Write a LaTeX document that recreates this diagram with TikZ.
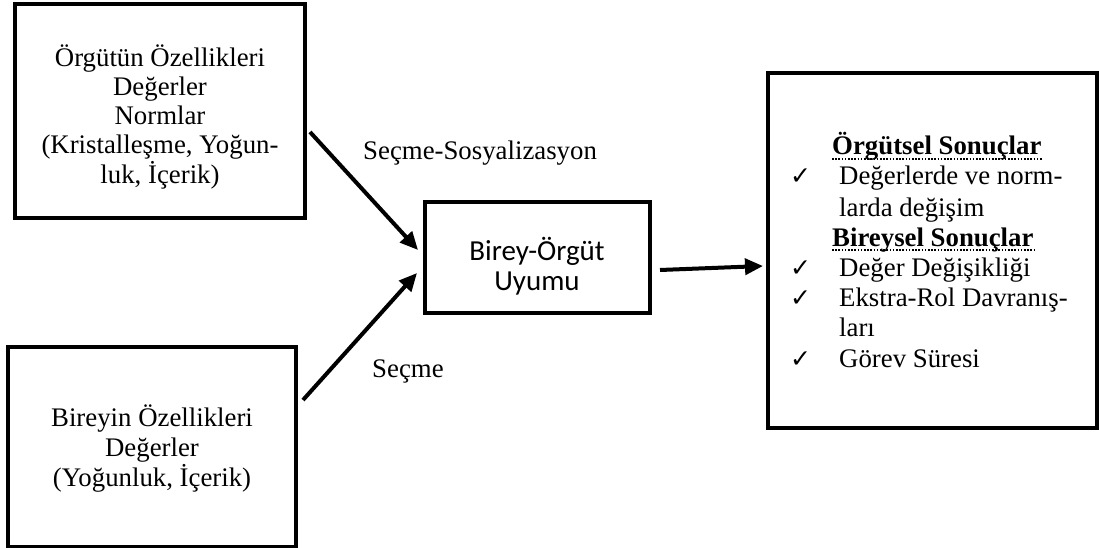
\documentclass[tikz,border=0pt]{standalone}
\usepackage{fontspec}
\setmainfont{Liberation Serif}
\newfontfamily\calib{Carlito}
\newfontfamily\dejavu{DejaVu Sans}
\usetikzlibrary{arrows.meta}
\tikzset{
  box/.style={draw, line width=4.5pt, inner sep=0pt, fill=none},
  txt/.style={inner sep=0pt, font=\fontsize{26.8}{30}\selectfont},
  sans/.style={inner sep=0pt, font=\calib\fontsize{29}{32}\selectfont},
  hd/.style={inner sep=0pt, font=\fontsize{26.8}{30}\selectfont\bfseries},
  chk/.style={inner sep=0pt, font=\dejavu\fontsize{25}{28}\selectfont},
  arr/.style={line width=4pt, -{Triangle[length=18pt,width=16pt]}},
  dotline/.style={line width=1.6pt, dash pattern=on 1.6pt off 1.6pt}
}
\begin{document}
\begin{tikzpicture}[x=1pt,y=-1pt]
\useasboundingbox (0,0) rectangle (1099,548);
% boxes
\node[box, minimum width=290pt, minimum height=214pt] (org) at (160,111) {};
\node[box, minimum width=288pt, minimum height=200pt] (bir) at (152,447) {};
\node[box, minimum width=225pt, minimum height=111pt] (uyum) at (537.5,257.5) {};
\node[box, minimum width=329pt, minimum height=355pt] (son) at (932.5,250.5) {};
% box 1 text
\node[txt, anchor=base] (o1) at (160,67) {Örgütün Özellikleri};
\node[txt, anchor=base] (o2) at (160,96) {Değerler};
\node[txt, anchor=base] (o3) at (160,125) {Normlar};
\node[txt, anchor=base] (o4) at (160,154) {(Kristalleşme, Yoğun-};
\node[txt, anchor=base] (o5) at (160,183) {luk, İçerik)};
% box 2 text
\node[txt, anchor=base] (b1) at (152,426) {Bireyin Özellikleri};
\node[txt, anchor=base] (b2) at (152,456) {Değerler};
\node[txt, anchor=base] (b3) at (152,486) {(Yoğunluk, İçerik)};
% middle text
\node[sans, anchor=base] (u1) at (537,260) {Birey-Örgüt};
\node[sans, anchor=base] (u2) at (537,290) {Uyumu};
% labels
\node[txt, anchor=base west] (l1) at (363,160) {Seçme-Sosyalizasyon};
\node[txt, anchor=base west] (l2) at (372,377) {Seçme};
% right box
\node[hd, anchor=base west] (h1) at (832,155) {Örgütsel Sonuçlar};
\draw[dotline] ([yshift=-4pt]h1.base west) -- ([yshift=-4pt]h1.base east);
\node[chk, anchor=base west] (c1) at (790,185) {✓};
\node[txt, anchor=base west] (r1) at (839,185) {Değerlerde ve norm-};
\node[txt, anchor=base west] (r2) at (839,216) {larda değişim};
\node[hd, anchor=base west] (h2) at (832,246) {Bireysel Sonuçlar};
\draw[dotline] ([yshift=-4pt]h2.base west) -- ([yshift=-4pt]h2.base east);
\node[chk, anchor=base west] (c2) at (790,276) {✓};
\node[txt, anchor=base west] (r3) at (839,276) {Değer Değişikliği};
\node[chk, anchor=base west] (c3) at (790,306) {✓};
\node[txt, anchor=base west] (r4) at (839,306) {Ekstra-Rol Davranış-};
\node[txt, anchor=base west] (r5) at (839,336) {ları};
\node[chk, anchor=base west] (c4) at (790,367) {✓};
\node[txt, anchor=base west] (r6) at (839,367) {Görev Süresi};
% arrows
\coordinate (a1s) at (310,132);
\coordinate (a1e) at (418,250);
\coordinate (a2s) at (303,400);
\coordinate (a2e) at (417,273);
\coordinate (a3s) at (660,270);
\coordinate (a3e) at (763,266);
\draw[arr] (a1s) -- (a1e);
\draw[arr] (a2s) -- (a2e);
\draw[arr] (a3s) -- (a3e);
\end{tikzpicture}
\end{document}
